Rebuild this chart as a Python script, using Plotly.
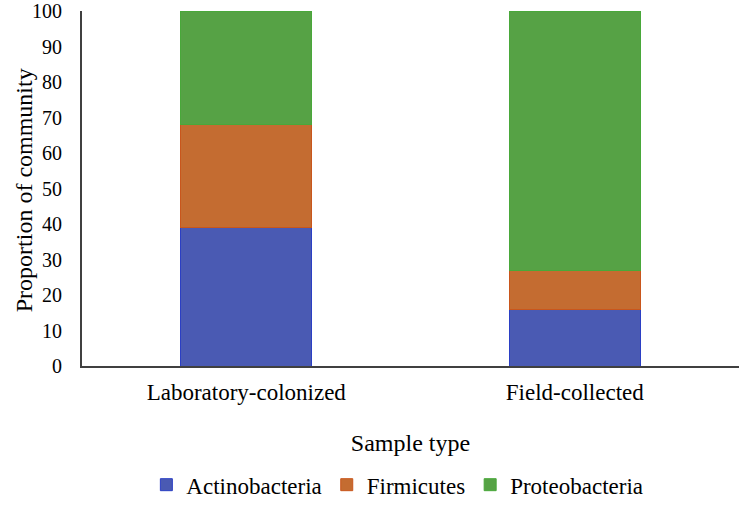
import plotly.graph_objects as go

categories = ["Laboratory-colonized", "Field-collected"]
actinobacteria = [39, 16]
firmicutes = [29, 11]
proteobacteria = [32, 73]
y_ticks = [0, 10, 20, 30, 40, 50, 60, 70, 80, 90, 100]

FONT = "Liberation Serif, Times New Roman, serif"

series = [
    ("Actinobacteria", actinobacteria, "#4a5ab3", "#2b3fc4"),
    ("Firmicutes", firmicutes, "#c46c31", "#c9561c"),
    ("Proteobacteria", proteobacteria, "#56a245", "#49a83a"),
]

fig = go.Figure()
for name, vals, fill, edge in series:
    fig.add_trace(go.Bar(
        name=name, x=categories, y=vals,
        marker=dict(color=fill, line=dict(color=edge, width=1)),
    ))

fig.update_layout(
    barmode="stack",
    bargap=0.6,
    width=742, height=507,
    margin=dict(l=82, r=3, t=11, b=141, autoexpand=False),
    paper_bgcolor="white", plot_bgcolor="white",
    font=dict(family=FONT, size=22, color="black"),
    showlegend=True,
    legend=dict(
        orientation="h", x=0.48, xanchor="center", y=-0.395, yanchor="bottom",
        font=dict(family=FONT, size=23, color="black"), itemwidth=30, traceorder="normal",
        tracegroupgap=0,
    ),
    xaxis=dict(
        showline=True, linecolor="#404040", linewidth=2,
        ticks="", ticklabelstandoff=4,
        tickfont=dict(family=FONT, size=23, color="black"),
        title=dict(text="Sample type", font=dict(family=FONT, size=24, color="black"), standoff=31),
        automargin=False,
    ),
    yaxis=dict(
        range=[0, 100], tickvals=y_ticks,
        showline=True, linecolor="#404040", linewidth=2,
        showgrid=False, zeroline=False, ticks="",
        ticklabelstandoff=14, ticklabeloverflow="allow",
        tickfont=dict(family=FONT, size=20, color="black"),
        automargin=False,
    ),
    annotations=[dict(
        text="Proportion of community", textangle=-90,
        xref="paper", yref="paper", x=0, y=0.495, xanchor="center", yanchor="middle",
        xshift=-58, showarrow=False,
        font=dict(family=FONT, size=24, color="black"),
    )],
)

# remove the page's default 8px body margin so the figure fills the window
fig.write_html(
    "out.html",
    config={"displayModeBar": False},
    post_script="document.body.style.margin='0';",
)
